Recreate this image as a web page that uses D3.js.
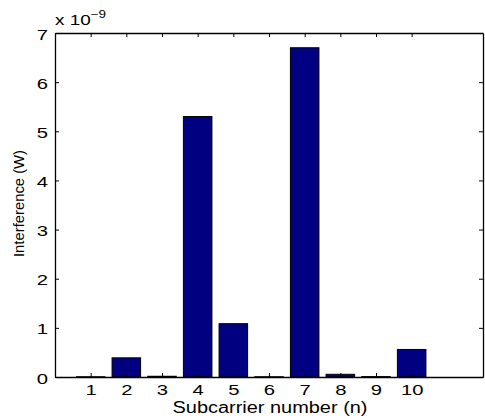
<!DOCTYPE html>
<html>
<head>
<meta charset="utf-8">
<script src="https://cdn.jsdelivr.net/npm/d3@7"></script>
<style>
  body { margin: 0; background: #fff; }
  text { font-family: "Liberation Sans", Arial, sans-serif; }
</style>
</head>
<body>
<div id="chart"></div>
<script>
// subcarrier index and interference (units of 1e-9 W)
var subcarriers = [1, 2, 3, 4, 5, 6, 7, 8, 9, 10];
var interference = [0.005, 0.39, 0.015, 5.30, 1.085, 0.005, 6.70, 0.055, 0.008, 0.56];
var yTicks = [0, 1, 2, 3, 4, 5, 6, 7];

var margin = { top: 33, right: 2, bottom: 42, left: 55 };
var width = 485 - margin.left - margin.right,
    height = 419 - margin.top - margin.bottom;

var sx = 1.35; // text in the original is stretched horizontally

var svg = d3.select("#chart").append("svg")
    .attr("width", 485)
    .attr("height", 419);

var g = svg.append("g")
    .attr("transform", "translate(" + margin.left + "," + margin.top + ")");

var x = d3.scaleLinear().domain([0, 12]).range([0, width]);
var y = d3.scaleLinear().domain([0, 7]).range([height, 0]);
var barW = x(0.8) - x(0);

// bars
g.selectAll("rect.bar")
    .data(subcarriers)
    .enter()
    .append("rect")
    .attr("class", "bar")
    .attr("x", function(d) { return x(d) - barW / 2; })
    .attr("y", function(d, i) { return y(interference[i]); })
    .attr("width", barW)
    .attr("height", function(d, i) { return y(0) - y(interference[i]); })
    .style("fill", "#000080")
    .style("stroke", "black")
    .style("stroke-width", 1);

// axes (box with ticks on all sides, inward)
var tickLen = 4;
var xAxisB = d3.axisBottom(x).tickValues(subcarriers).tickSizeInner(-tickLen).tickSizeOuter(0).tickPadding(0);
var xAxisT = d3.axisTop(x).tickValues(subcarriers).tickSizeInner(-tickLen).tickSizeOuter(0).tickFormat("");
var yAxisL = d3.axisLeft(y).tickValues(yTicks).tickFormat(d3.format("d")).tickSizeInner(-tickLen).tickSizeOuter(0);
var yAxisR = d3.axisRight(y).tickValues(yTicks).tickSizeInner(-tickLen).tickSizeOuter(0).tickFormat("");

function styleAxis(sel) {
    sel.select(".domain").attr("stroke", "black").attr("stroke-width", 1.3);
    sel.selectAll(".tick line").attr("stroke", "black");
    sel.selectAll(".tick text").attr("font-size", "15px").attr("fill", "black")
        .style("font-family", "'Liberation Sans', Arial, sans-serif");
}

var gx = g.append("g").attr("transform", "translate(0," + height + ")").call(xAxisB).call(styleAxis);
gx.selectAll(".tick text")
    .attr("dy", null)
    .attr("y", 18.5)
    .attr("transform", "scale(" + sx + ",1)");

g.append("g").call(xAxisT).call(styleAxis);

var gy = g.append("g").call(yAxisL).call(styleAxis);
gy.selectAll(".tick text")
    .attr("x", -7 / sx)
    .attr("dy", "0.4em")
    .attr("transform", "scale(" + sx + ",1)");

g.append("g").attr("transform", "translate(" + width + ",0)").call(yAxisR).call(styleAxis);

// exponent label
var expo = svg.append("text")
    .attr("transform", "translate(" + (margin.left) + ",25) scale(" + sx + ",1)")
    .attr("font-size", "14px");
expo.append("tspan").text("x 10");
expo.append("tspan").attr("dy", -7).attr("font-size", "10px").text("\u22129");

// axis titles
svg.append("text")
    .attr("x", 270)
    .attr("y", 413)
    .attr("text-anchor", "middle")
    .attr("font-size", "16px")
    .attr("textLength", 195)
    .attr("lengthAdjust", "spacingAndGlyphs")
    .text("Subcarrier number (n)");

svg.append("text")
    .attr("transform", "translate(24,203.5) rotate(-90)")
    .attr("text-anchor", "middle")
    .attr("font-size", "15px")
    .attr("textLength", 107)
    .attr("lengthAdjust", "spacingAndGlyphs")
    .text("Interference (W)");
</script>
</body>
</html>
